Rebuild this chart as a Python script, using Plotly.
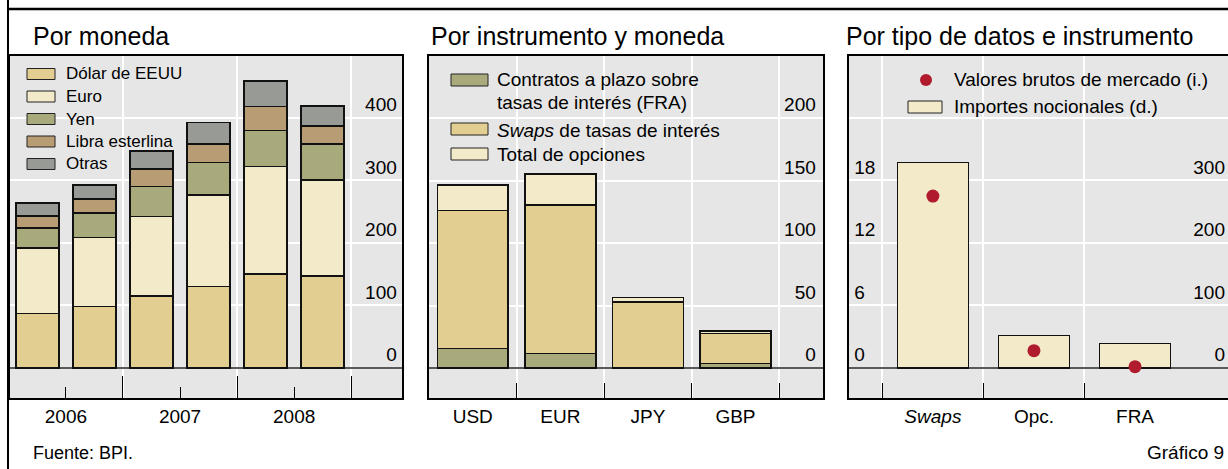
import plotly.graph_objects as go

W, H = 1228, 469

# Por moneda: semestres 2006-2008
periodos = ["S1 2006", "S2 2006", "S1 2007", "S2 2007", "S1 2008", "S2 2008"]
anios = ["2006", "2007", "2008"]
dolar = [87.5, 98, 115, 130, 150, 147]
euro = [104.5, 111, 127, 147, 172, 154]
yen = [32, 38.5, 48, 52, 58, 57]
libra = [19, 22.5, 28, 29, 38, 29]
otras = [20.5, 23, 29, 35, 41, 32]

# Por instrumento y moneda
monedas = ["USD", "EUR", "JPY", "GBP"]
fra = [15.7, 11.7, 0.0, 3.7]
swaps = [110.2, 118.7, 53.0, 24.0]
opciones = [20.5, 24.8, 3.5, 1.9]

# Por tipo de datos e instrumento
instrumentos = ["<i>Swaps</i>", "Opc.", "FRA"]
nocionales = [328.5, 51.7, 38.9]   # eje derecho
brutos = [16.5, 1.66, 0.13]        # eje izquierdo

C_DOLAR = "#E3CE92"
C_EURO = "#F3EACA"
C_YEN = "#A8AA7C"
C_LIBRA = "#B89C74"
C_OTRAS = "#989A96"
C_RED = "#B01C2E"
BG = "#E6E6E6"
FONT = "Liberation Sans, Arial, sans-serif"


def px(x):
    return x / W


def py(y):
    return 1 - y / H


fig = go.Figure()

# panel 1
x1 = list(range(len(periodos)))
for name, vals, col in [("Dólar de EEUU", dolar, C_DOLAR), ("Euro", euro, C_EURO),
                        ("Yen", yen, C_YEN), ("Libra esterlina", libra, C_LIBRA),
                        ("Otras", otras, C_OTRAS)]:
    fig.add_trace(go.Bar(x=x1, y=vals, name=name, width=0.755, hovertext=periodos,
                         marker=dict(color=col, line=dict(color="#111", width=1.5)),
                         xaxis="x", yaxis="y", showlegend=False))

# panel 2
x2 = list(range(len(monedas)))
for name, vals, col in [("FRA", fra, C_YEN), ("Swaps", swaps, C_DOLAR),
                        ("Opciones", opciones, C_EURO)]:
    fig.add_trace(go.Bar(x=x2, y=vals, name=name, width=0.81, hovertext=monedas,
                         marker=dict(color=col, line=dict(color="#111", width=1.5)),
                         xaxis="x2", yaxis="y2", showlegend=False))

# panel 3
x3 = list(range(len(instrumentos)))
fig.add_trace(go.Bar(x=x3, y=nocionales, name="Importes nocionales (d.)", width=0.70,
                     marker=dict(color=C_EURO, line=dict(color="#111", width=1.5)),
                     xaxis="x3", yaxis="y3", showlegend=False))
fig.add_trace(go.Scatter(x=x3, y=brutos, name="Valores brutos de mercado (i.)", mode="markers",
                         marker=dict(color=C_RED, size=13),
                         xaxis="x3", yaxis="y4", showlegend=False, cliponaxis=False))

ydom = [py(398), py(56)]


def xax(left, right, rng, tickvals, ticktext, ticklen, minor_vals, minor_len, anchor):
    return dict(domain=[px(left), px(right)], range=rng, anchor=anchor,
                tickmode="array", tickvals=tickvals, ticktext=ticktext,
                ticks="inside" if ticklen else "", ticklen=ticklen,
                tickcolor="black", tickwidth=1,
                showgrid=False, zeroline=False,
                showline=True, linecolor="black", linewidth=2, mirror=True,
                minor=dict(tickmode="array", tickvals=minor_vals, ticks="inside",
                           ticklen=minor_len, tickcolor="black", tickwidth=1,
                           showgrid=True, gridcolor="white", gridwidth=1.5),
                tickfont=dict(size=19, color="black"), fixedrange=True)


def yax(rng, tickvals, ticktext, side, anchor, **kw):
    d = dict(domain=ydom, range=rng, anchor=anchor, side=side,
             tickmode="array", tickvals=tickvals, ticktext=ticktext,
             ticklabelposition="inside top", ticklabelstandoff=5, ticks="",
             showgrid=True, gridcolor="white", gridwidth=1.5,
             zeroline=True, zerolinecolor="#5a5a5a", zerolinewidth=2,
             showline=True, linecolor="black", linewidth=2, mirror=True,
             tickfont=dict(size=19, color="black"), fixedrange=True)
    d.update(kw)
    return d


fig.update_layout(
    width=W, height=H,
    margin=dict(l=0, r=0, t=0, b=0),
    paper_bgcolor="white", plot_bgcolor=BG,
    font=dict(family=FONT, color="black"),
    barmode="stack", showlegend=False,
    xaxis=xax(10, 402, [-0.48, 6.39], [0.5, 2.5, 4.5], anios, 11, [1.5, 3.5, 5.5], 22, "y"),
    yaxis=yax([-48, 499], [0, 100, 200, 300, 400], ["0", "100", "200", "300", "400"], "right", "x"),
    xaxis2=xax(429, 823, [-0.5, 4.0], x2, monedas, 0, [0.5, 1.5, 2.5, 3.5], 15, "y2"),
    yaxis2=yax([-24, 249.6], [0, 50, 100, 150, 200], ["0", "50", "100", "150", "200"], "right", "x2",
               ticklabelstandoff=7),
    xaxis3=xax(849, W, [-0.83, 2.92], x3, instrumentos, 0, [-0.5, 0.5, 1.5], 15, "y3"),
    yaxis3=yax([-48, 499], [0, 100, 200, 300, 400], ["0", "100", "200", "300", ""], "right", "x3",
               showline=False, mirror=False, ticklabelstandoff=0),
    yaxis4=yax([-2.88, 29.95], [0, 6, 12, 18], ["0", "6", "12", "18"], "left", "x3",
               overlaying="y3", showgrid=False, zeroline=False, mirror=False),
)

shapes = []
annotations = []

# page frame
shapes.append(dict(type="line", xref="paper", yref="paper", x0=px(8), x1=px(8), y0=0, y1=1,
                   line=dict(color="black", width=2)))
shapes.append(dict(type="line", xref="paper", yref="paper", x0=px(8), x1=1, y0=py(9), y1=py(9),
                   line=dict(color="black", width=2.5)))


def text(x, y, s, size, anchor="left"):
    annotations.append(dict(xref="paper", yref="paper", x=px(x), y=py(y), text=s,
                            showarrow=False, xanchor=anchor, yanchor="middle",
                            font=dict(size=size, color="black", family=FONT)))


def swatch(x0, x1, yc, h, color):
    shapes.append(dict(type="rect", xref="paper", yref="paper",
                       x0=px(x0), x1=px(x1), y0=py(yc + h / 2), y1=py(yc - h / 2),
                       fillcolor=color, line=dict(color="#222", width=1)))


# titles
text(31, 36, "Por moneda", 25)
text(429, 36, "Por instrumento y moneda", 25)
text(844, 36, "Por tipo de datos e instrumento", 25)

# legend panel 1
rows1 = [74, 96.5, 119, 141.5, 164]
for yc, name, col in zip(rows1, ["Dólar de EEUU", "Euro", "Yen", "Libra esterlina", "Otras"],
                         [C_DOLAR, C_EURO, C_YEN, C_LIBRA, C_OTRAS]):
    swatch(27, 55, yc, 11, col)
    text(64, yc, name, 17)

# legend panel 2
swatch(451, 488, 80, 12, C_YEN)
text(495, 79, "Contratos a plazo sobre", 19)
text(495, 102, "tasas de interés (FRA)", 19)
swatch(451, 488, 129, 12, C_DOLAR)
text(495, 130, "<i>Swaps</i> de tasas de interés", 19)
swatch(451, 488, 154, 12, C_EURO)
text(495, 154, "Total de opciones", 19)

# legend panel 3
shapes.append(dict(type="circle", xref="paper", yref="paper",
                   x0=px(920), x1=px(932), y0=py(86), y1=py(74),
                   fillcolor=C_RED, line=dict(width=0)))
text(952, 80, "Valores brutos de mercado (i.)", 19)
swatch(908, 942, 107, 12, C_EURO)
text(952, 107, "Importes nocionales (d.)", 19)

# footer
text(31, 453, "Fuente: BPI.", 18)
text(1226, 452, "Gráfico 9", 19, anchor="right")

fig.update_layout(shapes=shapes, annotations=annotations)

# the page is exactly the figure: no default body margin
fig.write_html("out.html", config={"responsive": False, "displayModeBar": False},
               post_script="document.body.style.margin='0';document.body.style.overflow='hidden';")
